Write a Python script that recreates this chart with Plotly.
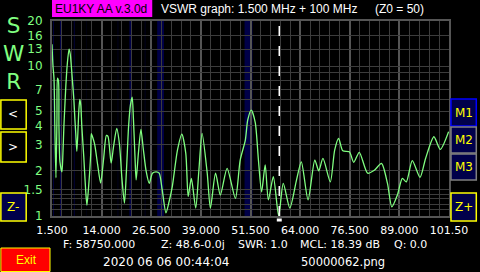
import math
import plotly.graph_objects as go

# ---------------- data ----------------
freq_mhz = [1.5, 1.75, 2.0, 2.25, 2.5, 2.75, 2.875, 3.125, 3.25, 3.5, 4.0, 4.25, 4.5, 4.75, 5.0,
            5.375, 5.8, 6.1, 6.5, 7.0, 7.25, 7.5, 7.75, 8.0, 8.25, 8.5, 8.75, 9.0, 9.5, 10.0,
            10.3, 10.75, 11.25, 11.4, 11.75, 12.25, 13.0, 13.75, 14.5, 15.2, 15.6, 16.4, 17.0,
            17.8, 18.5, 19.1, 19.75, 20.25, 20.8, 21.25, 21.7, 22.0, 22.4, 22.7, 23.25, 23.9,
            24.5, 25.2, 26.0, 26.8, 27.75, 28.5, 29.25, 30.2, 31.0, 31.8, 33.1, 34.2, 35.2,
            35.8, 36.6, 37.7, 38.5, 39.3, 40.6, 41.4, 42.7, 43.9, 45.6, 47.7, 48.9, 50.2, 50.8,
            51.7, 52.7, 53.5, 54.3, 55.2, 56.0, 57.25, 58.6, 59.75, 61.4, 63.1, 64.3, 66.0,
            67.7, 68.7, 69.75, 71.6, 72.7, 73.7, 74.75, 76.4, 77.5, 78.9, 81.0, 82.7, 84.5,
            86.0, 87.1, 88.5, 89.75, 90.75, 92.25, 94.2, 95.6, 97.7, 99.3, 101.4]
swr = [14.0, 10.0, 8.3, 3.5, 1.8, 4.5, 8.3, 8.0, 4.0, 2.3, 1.97, 2.6, 4.0, 5.5, 7.5,
       10.5, 13.0, 12.0, 9.0, 6.0, 4.5, 3.5, 2.7, 3.5, 5.0, 6.0, 5.5, 4.0, 2.5, 1.45,
       1.18, 1.6, 2.6, 3.55, 3.35, 3.0, 2.2, 1.66, 2.4, 3.45, 3.4, 2.25, 2.9,
       3.84, 3.0, 1.8, 1.22, 2.0, 4.0, 5.5, 6.2, 4.5, 2.5, 1.74, 2.6, 3.78,
       2.8, 2.0, 1.65, 1.93, 1.97, 1.93, 1.5, 1.05, 1.25, 1.57, 2.75, 3.52, 2.62,
       1.35, 1.78, 1.13, 2.02, 3.56, 1.93, 1.13, 1.93, 1.38, 2.08, 1.31, 2.36, 3.21, 4.37,
       5.09, 4.2, 2.36, 1.45, 2.19, 1.28, 1.83, 1.0, 1.65, 1.13, 1.74, 2.30, 1.28,
       2.36, 2.0, 2.42, 1.69, 2.75, 3.30, 2.72, 2.68, 2.28, 2.66, 1.93, 2.02, 2.24,
       1.65, 1.15, 1.38, 1.78, 1.69, 2.34, 1.81, 2.42, 3.38, 2.78, 3.65]

x_tick_vals = [1.5, 14.0, 26.5, 39.0, 51.5, 64.0, 76.5, 89.0, 101.5]
x_tick_text = ["1.500", "14.000", "26.500", "39.000", "51.500", "64.000", "76.500", "89.000", "101.50"]
y_grid_vals = [1, 1.1, 1.2, 1.3, 1.4, 1.5, 2, 3, 4, 5, 6, 7, 8, 9, 10, 13, 16, 20]
y_tick_text = ["1", "", "", "", "", "1.5", "2", "3", "4", "5", "", "7", "", "", "10", "13", "16", "20"]
ham_bands = [(1.8, 2.0), (3.5, 3.8), (7.0, 7.2), (10.1, 10.15), (14.0, 14.35), (18.068, 18.168),
             (21.0, 21.45), (24.89, 24.99), (28.0, 29.7), (50.0, 52.0)]
marker_freq = 58.75

# ---------------- layout helpers ----------------
L, T, PW, PH = 52, 21, 400, 195
FIG_W, FIG_H = 480, 272
FONT = "DejaVu Sans"
FONT2 = "Liberation Sans"
GREEN = "#80ff80"
YELLOW = "#ffff00"
NAVY = "#00004a"


def px(x):
    return (x - L) / PW


def py(y):
    return (T + PH - y) / PH


fig = go.Figure()
fig.add_trace(go.Scatter(x=freq_mhz, y=swr, mode="lines",
                         line=dict(color=GREEN, width=1.3, shape="spline", smoothing=0.7),
                         hoverinfo="skip", showlegend=False))

shapes = []
for b0, b1 in ham_bands:
    shapes.append(dict(type="rect", xref="x", yref="paper", x0=b0, x1=b1, y0=0, y1=1,
                       fillcolor="#000048", line=dict(width=0), layer="below"))
shapes.append(dict(type="line", xref="x", yref="paper", x0=marker_freq, x1=marker_freq, y0=0, y1=1,
                   line=dict(color="white", width=1.5, dash="10px,10px"), layer="above"))
shapes.append(dict(type="rect", xref="paper", yref="paper",
                   x0=px(278.5), x1=px(283.5), y0=py(218.5), y1=py(221.5),
                   fillcolor="white", line=dict(width=0)))


def box(x0, y0, x1, y1, fill, border, bw=1.5):
    shapes.append(dict(type="rect", xref="paper", yref="paper",
                       x0=px(x0), x1=px(x1), y0=py(y1), y1=py(y0),
                       fillcolor=fill, line=dict(color=border, width=bw)))


# top magenta label
box(52, 0, 153, 17, "#ff00ff", "#ff00ff", 0)
# left buttons
box(0.5, 100, 26, 129, "black", YELLOW)
box(0.5, 132, 26, 162, "black", YELLOW)
box(0.5, 193, 26, 221, NAVY, YELLOW)
# right buttons
box(454, 99, 479.5, 126, NAVY, "#0000ff")
box(454, 127, 479.5, 153, NAVY, "#808080")
box(454, 154, 479.5, 180, NAVY, "#808080")
box(454, 193, 479.5, 221, NAVY, YELLOW)
# exit
box(0.5, 248, 50, 271.5, "#ff0000", YELLOW, 1)

annotations = []


def text(s, x, y, color="white", size=12, anchor="left", family=FONT):
    annotations.append(dict(text=s, xref="paper", yref="paper", x=px(x), y=py(y),
                            xanchor=anchor, yanchor="middle", showarrow=False,
                            font=dict(family=family, size=size, color=color)))


text("EU1KY AA v.3.0d", 53, 9, "black", 12, family=FONT2)
text("VSWR graph: 1.500 MHz + 100 MHz", 160, 9, "white", 12, family=FONT2)
text("(Z0 = 50)", 375, 9, "white", 12, family=FONT2)
text("S<br>W<br>R", 13, 54, GREEN, 21.5, "center")
text("<", 13, 114, "white", 12, "center")
text(">", 13, 147, "white", 12, "center")
text("Z-", 13, 207, YELLOW, 12, "center")
text("M1", 467, 113, YELLOW, 12, "center")
text("M2", 467, 140, YELLOW, 12, "center")
text("M3", 467, 167, YELLOW, 12, "center")
text("Z+", 467, 207, YELLOW, 12, "center")
text("Exit", 26, 260, YELLOW, 12, "center", FONT2)
text("F: 58750.000", 61, 245, size=11)
text("Z: 48.6-0.0j", 160, 245, size=11)
text("SWR: 1.0", 237, 245, size=11)
text("MCL: 18.39 dB", 300, 245, size=11)
text("Q: 0.0", 395, 245, size=11)
text("2020 06 06 00:44:04", 101, 262, size=12)
text("50000062.png", 301, 262, size=11.5)

fig.update_layout(
    width=FIG_W, height=FIG_H,
    margin=dict(l=L, r=FIG_W - L - PW, t=T, b=FIG_H - T - PH, pad=0),
    paper_bgcolor="black", plot_bgcolor="black",
    showlegend=False,
    shapes=shapes, annotations=annotations,
    xaxis=dict(range=[1.5, 101.5], tickmode="array", tickvals=x_tick_vals, ticktext=x_tick_text,
               showgrid=True, gridcolor="#555555", gridwidth=2,
               minor=dict(tick0=1.5, dtick=2.5, showgrid=True, gridcolor="#3c3c3c", gridwidth=1),
               showline=True, mirror=True, linecolor="#555555", linewidth=2,
               zeroline=False, ticks="", ticklabelstandoff=3,
               tickfont=dict(family=FONT, size=11, color="white"), fixedrange=True),
    yaxis=dict(type="log", range=[0, math.log10(20)], tickmode="array",
               tickvals=y_grid_vals, ticktext=y_tick_text,
               showgrid=True, gridcolor="#3c3c3c", gridwidth=1,
               showline=True, mirror=True, linecolor="#555555", linewidth=2,
               zeroline=False, ticks="", ticklabelstandoff=5,
               tickfont=dict(family=FONT, size=12, color=GREEN), fixedrange=True),
)

fig.write_html("out.html")
